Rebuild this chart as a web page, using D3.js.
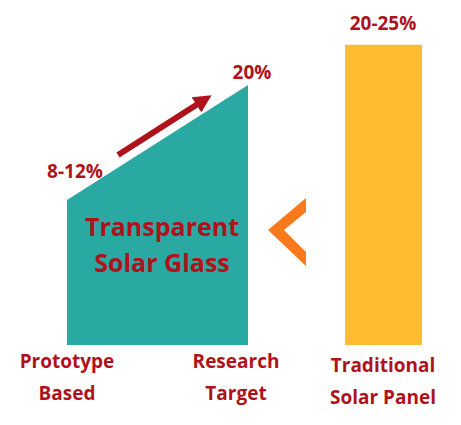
<!DOCTYPE html>
<html><head><meta charset="utf-8">
<script src="https://cdn.jsdelivr.net/npm/d3@7"></script>
<style>body{margin:0;background:#fff}text{font-family:"Open Sans",sans-serif;font-weight:bold;fill:#b0121b}</style>
</head><body><svg id="chart"></svg>
<script>
// efficiency values (%)
const glassStages = ['Prototype Based', 'Research Target']
const glassValues = [10, 20]
const glassLabels = ['8-12%', '20%']
const panelName = 'Traditional Solar Panel'
const panelValue = 23.5
const panelLabel = '20-25%'

const svg = d3.select('#chart').attr('width', 461).attr('height', 425)
const base = 345
const y = d3.scaleLinear().domain([10, 20]).range([200, 85])
const x = d3.scalePoint().domain(glassStages).range([67, 248])

// trapezoid
const pts = [[x(glassStages[0]), base]]
glassStages.forEach((s, i) => pts.push([x(s), y(glassValues[i])]))
pts.push([x(glassStages[1]), base])
svg.append('path').attr('d', d3.line()(pts)).attr('fill', '#2aa9a3')

// arrow
svg.append('defs').append('marker').attr('id', 'ah').attr('viewBox', '0 0 10 10')
  .attr('refX', 5).attr('refY', 5).attr('markerWidth', 3).attr('markerHeight', 3).attr('orient', 'auto')
  .append('path').attr('d', 'M0,0L10,5L0,10z').attr('fill', '#b0121b')
svg.append('line').attr('x1', 118).attr('y1', 155).attr('x2', 204).attr('y2', 100)
  .attr('stroke', '#b0121b').attr('stroke-width', 6).attr('marker-end', 'url(#ah)')

svg.append('text').attr('x', 75).attr('y', y(glassValues[0]) - 22).attr('text-anchor', 'middle')
  .attr('font-size', 19).text(glassLabels[0])
svg.append('text').attr('x', 252).attr('y', y(glassValues[1]) - 6).attr('text-anchor', 'middle')
  .attr('font-size', 19).text(glassLabels[1])

svg.append('text').attr('x', 162).attr('y', 236).attr('text-anchor', 'middle').attr('font-size', 25).text('Transparent')
svg.append('text').attr('x', 162).attr('y', 272).attr('text-anchor', 'middle').attr('font-size', 25).text('Solar Glass')

// bottom labels
const lab = (cx, cy, lines) => lines.forEach((t, i) =>
  svg.append('text').attr('x', cx).attr('y', cy + i * 32).attr('text-anchor', 'middle').attr('font-size', 19).text(t))
lab(67, 368, glassStages[0].split(' '))
lab(236, 368, glassStages[1].split(' '))
lab(383, 372, ['Traditional', 'Solar Panel'])

// panel bar
svg.append('rect').attr('x', 345).attr('width', 77).attr('y', y(panelValue)).attr('height', base - y(panelValue))
  .attr('fill', '#fdbb30')
svg.append('text').attr('x', 383).attr('y', y(panelValue) - 15).attr('text-anchor', 'middle')
  .attr('font-size', 19).text(panelLabel)

// chevron
svg.append('path').attr('d', 'M306,198 L268,230 L306,266 L306,252 L284,230 L306,212 Z').attr('fill', '#f97a1d')
</script></body></html>
